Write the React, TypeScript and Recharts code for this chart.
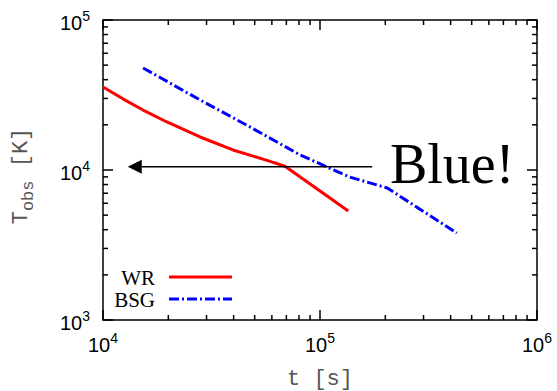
import { Legend, Line, LineChart, ReferenceArea, ReferenceDot, ReferenceLine, XAxis, YAxis } from "recharts";

// WR model: time [s] and observed temperature [K]
const wrTime = [1.0e4, 1.24e4, 1.53e4, 1.97e4, 2.8e4, 3.97e4, 5.7e4, 6.9e4, 1.35e5];
const wrTemp = [3.58e4, 2.97e4, 2.51e4, 2.09e4, 1.66e4, 1.36e4, 1.16e4, 1.06e4, 5.33e3];

// BSG model
const bsgTime = [1.53e4, 2.8e4, 4.75e4, 8.09e4, 1.37e5, 2.04e5, 4.27e5];
const bsgTemp = [4.79e4, 2.93e4, 1.94e4, 1.26e4, 8.98e3, 7.59e3, 3.8e3];

// axis decades and minor multipliers
const xDecades = [1e4, 1e5, 1e6];
const yDecades = [1e3, 1e4, 1e5];
const minorSteps = [2, 3, 4, 5, 6, 7, 8, 9];

// annotation: arrow and text
const arrowFrom = { t: 1.74e5, T: 1.05e4 };
const arrowTo = { t: 1.3e4, T: 1.05e4 };
const noteAt = { t: 2.1e5, T: 8.2e3, text: "Blue!" };

const wrData = wrTime.map((t, i) => ({ t, T: wrTemp[i] }));
const bsgData = bsgTime.map((t, i) => ({ t, T: bsgTemp[i] }));

const buildTicks = (decades: number[]) => {
  const out: number[] = [];
  decades.forEach((d, i) => {
    out.push(d);
    if (i < decades.length - 1) minorSteps.forEach((m) => out.push(d * m));
  });
  return out;
};
const xTicks = buildTicks(xDecades);
const yTicks = buildTicks(yDecades);

const W = 557;
const H = 391;
const M = { top: 20, right: 20, left: 0, bottom: 0 };
const Y_AXIS_W = 103;
const X_AXIS_H = 71;
const PLOT_W = W - M.left - M.right - Y_AXIS_W;
const PLOT_H = H - M.top - M.bottom - X_AXIS_H;

const isMajor = (v: number) => Math.abs(Math.log10(v) - Math.round(Math.log10(v))) < 1e-6;
const LABEL_FONT = "'Liberation Sans', Arial, sans-serif";
const MONO = "'Liberation Mono', 'Courier New', monospace";

const XTick = (props: any) => {
  const { x, y, payload } = props;
  const major = isMajor(payload.value);
  const len = major ? 10 : 5;
  const top = y - PLOT_H;
  return (
    <g>
      <line x1={x} y1={y} x2={x} y2={y - len} stroke="#000" strokeWidth={1.5} />
      <line x1={x} y1={top} x2={x} y2={top + len} stroke="#000" strokeWidth={1.5} />
      {major && (
        <text x={x} y={y + 32} textAnchor="middle" fontFamily={LABEL_FONT} fontSize={20} fill="#000">
          10
          <tspan dy={-9} fontSize={14}>
            {Math.round(Math.log10(payload.value))}
          </tspan>
        </text>
      )}
    </g>
  );
};

const YTick = (props: any) => {
  const { x, y, payload } = props;
  const major = isMajor(payload.value);
  const len = major ? 10 : 5;
  const right = x + PLOT_W;
  return (
    <g>
      <line x1={x} y1={y} x2={x + len} y2={y} stroke="#000" strokeWidth={1.5} />
      <line x1={right} y1={y} x2={right - len} y2={y} stroke="#000" strokeWidth={1.5} />
      {major && (
        <text x={x - 28} y={y + 10} textAnchor="middle" fontFamily={LABEL_FONT} fontSize={20} fill="#000">
          10
          <tspan dy={-9} fontSize={14}>
            {Math.round(Math.log10(payload.value))}
          </tspan>
        </text>
      )}
    </g>
  );
};

const XLabel = (props: any) => {
  const vb = props.viewBox;
  return (
    <text x={vb.x + vb.width / 2} y={vb.y + 65} textAnchor="middle" fontFamily={MONO} fontSize={22} fill="#555">
      t [s]
    </text>
  );
};

const YLabel = () => {
  const cx = 27;
  const cy = 176;
  return (
    <text x={cx} y={cy} textAnchor="middle" transform={`rotate(-90 ${cx} ${cy})`} fontFamily={MONO} fontSize={22} fill="#555">
      T
      <tspan dy={6} fontSize={17}>obs</tspan>
      <tspan dy={-6}> [K]</tspan>
    </text>
  );
};

const Arrow = (props: any) => {
  const { x1, y1, x2, y2 } = props;
  const head = 14;
  return (
    <g>
      <line x1={x1} y1={y1} x2={x2 + head} y2={y2} stroke="#000" strokeWidth={1.5} />
      <polygon points={`${x2},${y2} ${x2 + head},${y2 - 7} ${x2 + head},${y2 + 7}`} fill="#000" />
    </g>
  );
};

const Note = (props: any) => (
  <text x={props.cx} y={props.cy} fontFamily="'Liberation Serif', 'Times New Roman', serif" fontSize={56} fill="#000">
    {noteAt.text}
  </text>
);

const LegendBox = () => (
  <svg width={140} height={52}>
    <text x={55} y={23} textAnchor="end" fontFamily="'Liberation Serif', serif" fontSize={21} fill="#000">WR</text>
    <line x1={69} y1={15} x2={132} y2={15} stroke="#ff0000" strokeWidth={3} />
    <text x={55} y={45} textAnchor="end" fontFamily="'Liberation Serif', serif" fontSize={21} fill="#000">BSG</text>
    <line x1={69} y1={37} x2={132} y2={37} stroke="#0000ff" strokeWidth={3} strokeDasharray="10 3 2 3" />
  </svg>
);

export default function App() {
  return (
    <div style={{ position: "absolute", left: 0, top: 0, background: "#fff" }}>
      <LineChart width={W} height={H} margin={M}>
        <XAxis
          dataKey="t"
          type="number"
          scale="log"
          domain={[xDecades[0], xDecades[xDecades.length - 1]]}
          ticks={xTicks}
          interval={0}
          tick={<XTick />}
          tickSize={0}
          tickMargin={0}
          tickLine={false}
          axisLine={false}
          height={X_AXIS_H}
          allowDataOverflow
          label={{ content: <XLabel /> }}
        />
        <YAxis
          type="number"
          scale="log"
          domain={[yDecades[0], yDecades[yDecades.length - 1]]}
          ticks={yTicks}
          interval={0}
          tick={<YTick />}
          tickSize={0}
          tickMargin={0}
          tickLine={false}
          axisLine={false}
          width={Y_AXIS_W}
          allowDataOverflow
          label={{ content: <YLabel /> }}
        />
        <ReferenceArea
          x1={xDecades[0]}
          x2={xDecades[xDecades.length - 1]}
          y1={yDecades[0]}
          y2={yDecades[yDecades.length - 1]}
          fill="none"
          stroke="#000"
          strokeWidth={1.5}
          ifOverflow="visible"
        />
        <Line
          data={wrData}
          dataKey="T"
          name="WR"
          type="linear"
          stroke="#ff0000"
          strokeWidth={3}
          strokeLinejoin="round"
          dot={false}
          isAnimationActive={false}
        />
        <Line
          data={bsgData}
          dataKey="T"
          name="BSG"
          type="linear"
          stroke="#0000ff"
          strokeWidth={3}
          strokeDasharray="10 3 2 3"
          dot={false}
          isAnimationActive={false}
        />
        <ReferenceLine
          segment={[
            { x: arrowFrom.t, y: arrowFrom.T },
            { x: arrowTo.t, y: arrowTo.T },
          ]}
          shape={<Arrow />}
          ifOverflow="visible"
        />
        <ReferenceDot x={noteAt.t} y={noteAt.T} r={0} shape={<Note />} ifOverflow="visible" />
        <Legend
          layout="vertical"
          align="center"
          verticalAlign="middle"
          content={<LegendBox />}
          wrapperStyle={{ position: "absolute", left: 100, top: 262, width: 140, height: 52 }}
        />
      </LineChart>
    </div>
  );
}
